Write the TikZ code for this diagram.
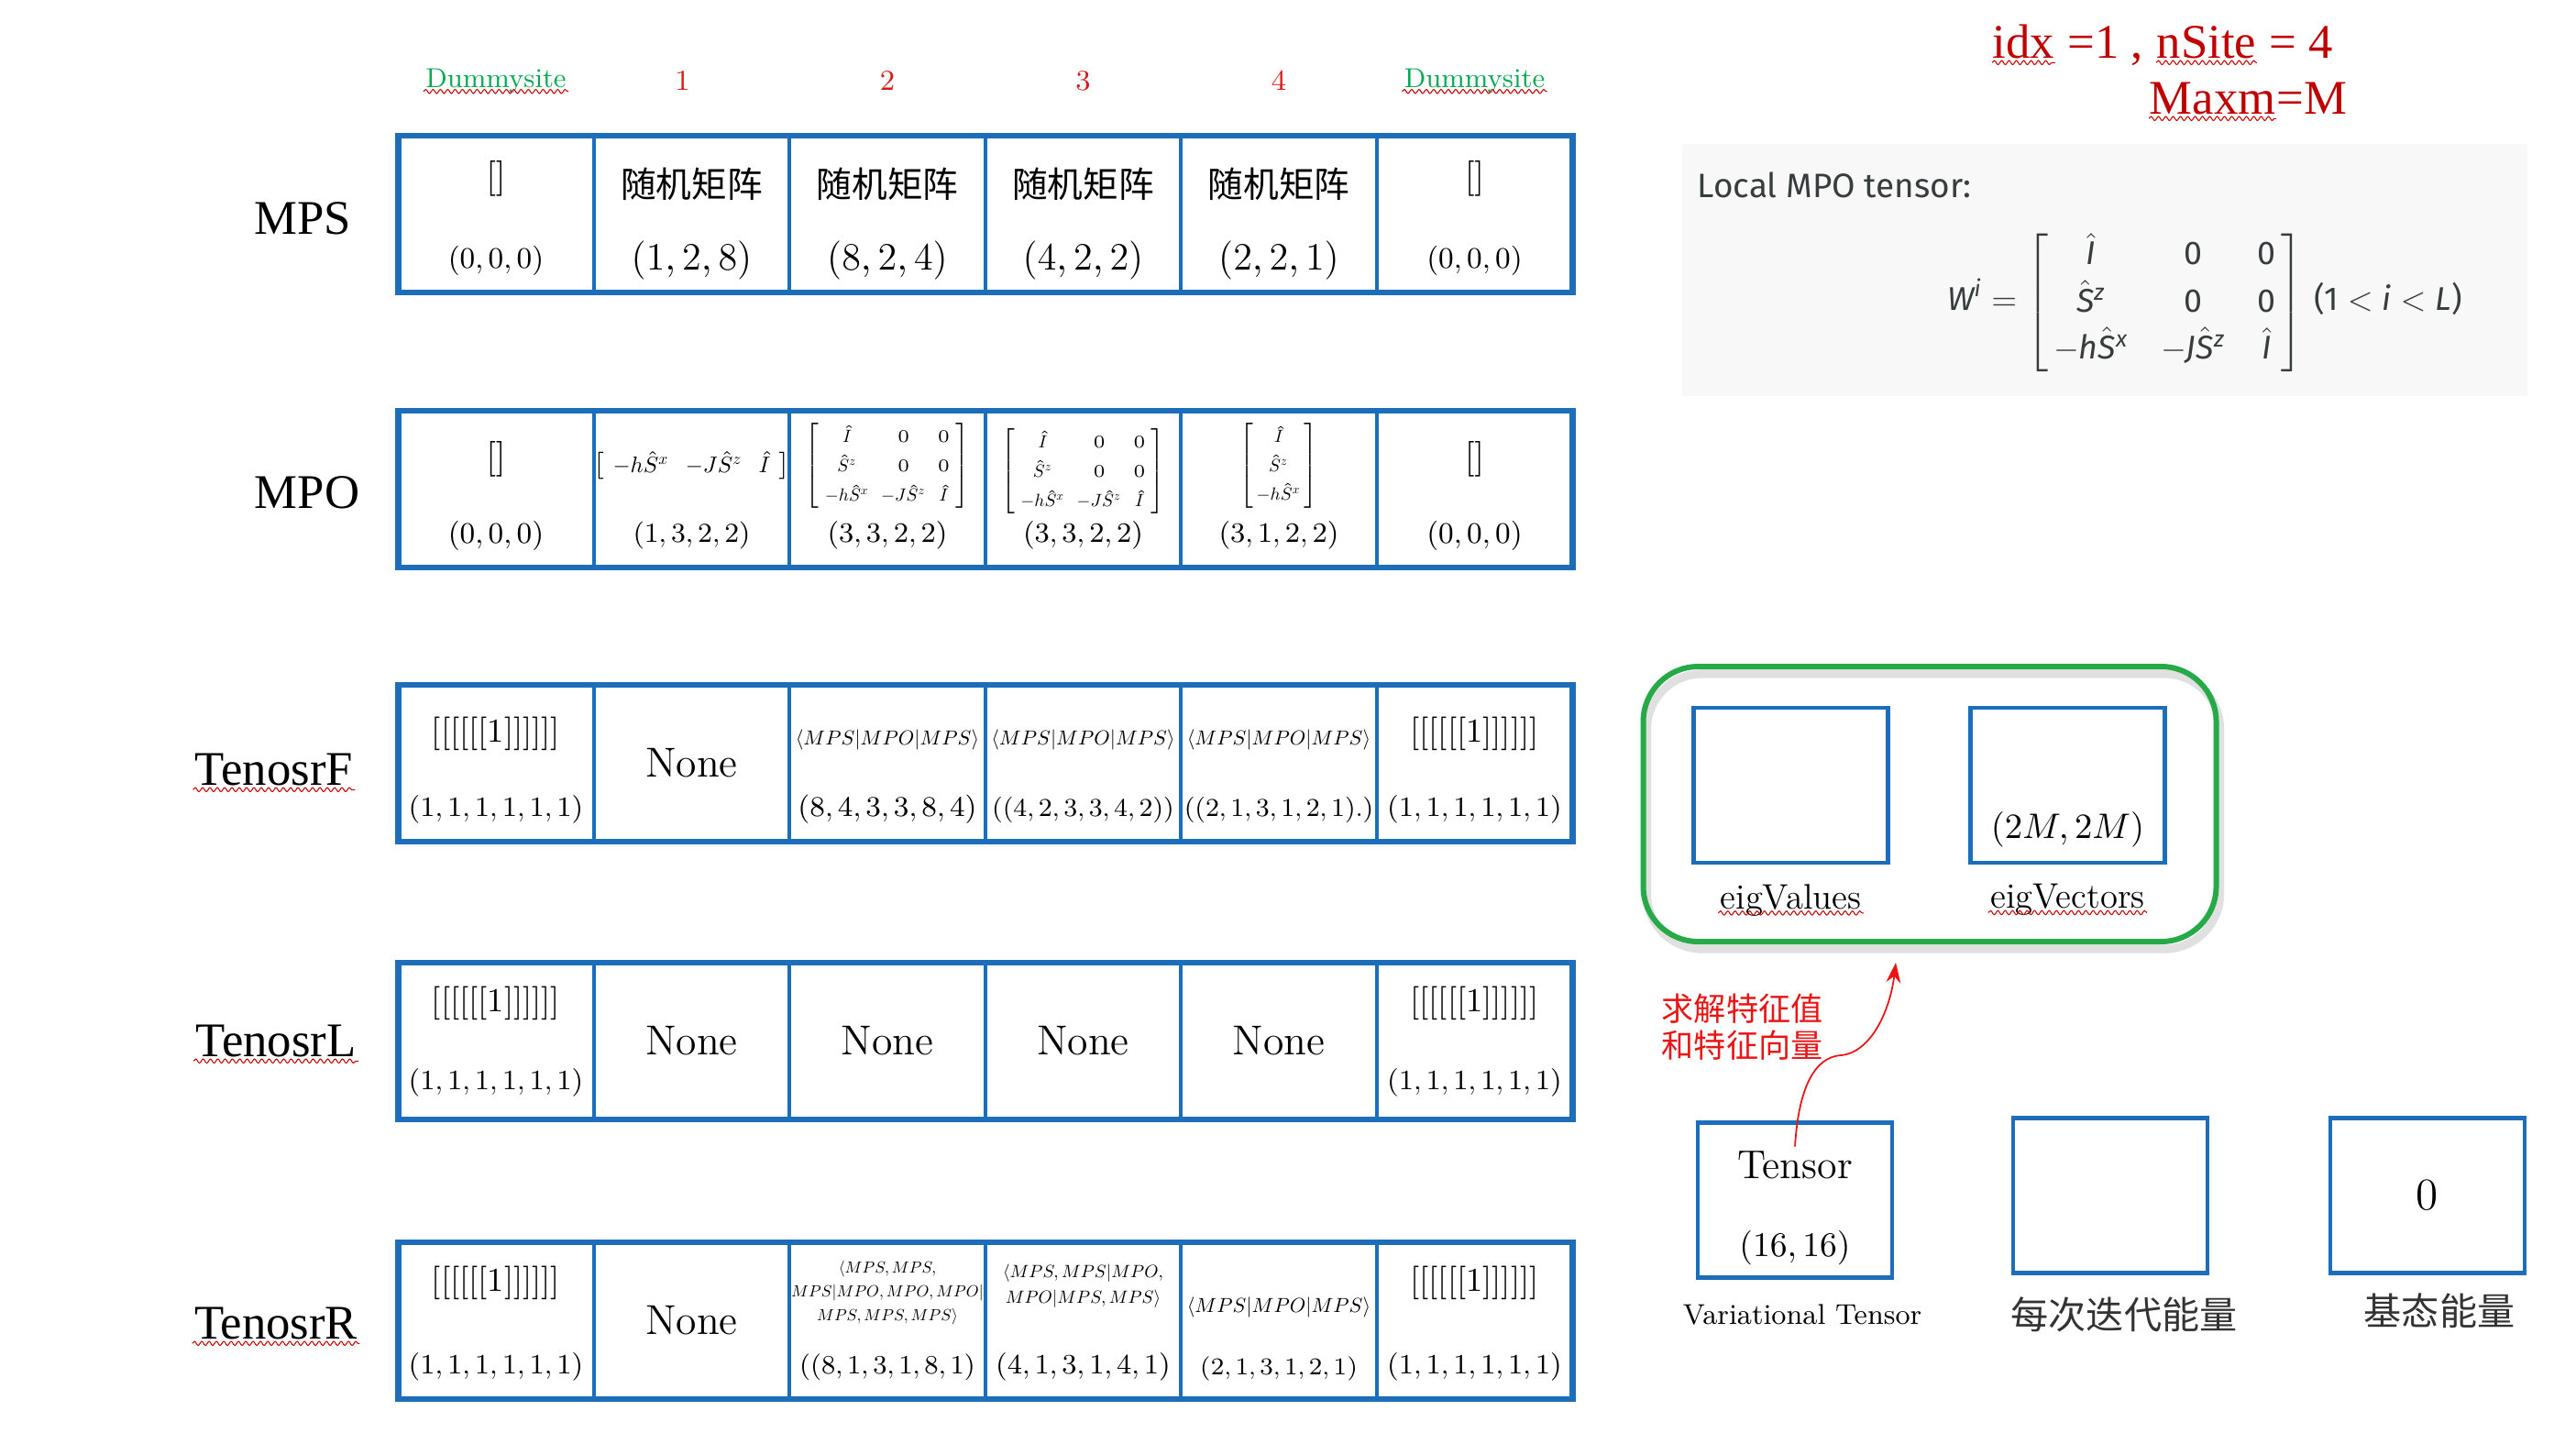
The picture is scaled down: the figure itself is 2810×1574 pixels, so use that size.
\RequirePackage{fix-cm}
\documentclass[tikz,border=0pt]{standalone}
\usepackage{amsmath}
\usepackage{amssymb}
\usepackage{fontspec}
\usepackage{tikz}
\usetikzlibrary{positioning,arrows.meta,decorations.pathmorphing}
\DeclareFontShape{OML}{cmm}{m}{it}{<->cmmi10}{}
\DeclareFontShape{OMS}{cmsy}{m}{n}{<->cmsy10}{}
\newfontfamily\cjk{Noto Sans CJK SC}
\newfontfamily\tnr{Liberation Serif}
\newfontfamily\fira{Fira Sans}
\definecolor{cellblue}{RGB}{28,110,186}
\definecolor{sitegreen}{RGB}{0,170,80}
\definecolor{numred}{RGB}{222,24,24}
\definecolor{idxred}{RGB}{192,0,0}
\definecolor{notered}{RGB}{235,20,20}
\definecolor{blobgreen}{RGB}{38,170,72}
\definecolor{panelgray}{RGB}{248,248,248}
\definecolor{paneltext}{RGB}{55,60,60}
\newcommand{\fsz}[2]{\fontsize{#1}{#2}\selectfont}
\newcommand{\Ih}{\hat{I}}
\newcommand{\Sz}{\hat{S}^{z}}
\newcommand{\Sx}{\hat{S}^{x}}
\newcommand{\fm}[1]{\text{\fira\itshape #1}}
\newcommand{\fr}[1]{\text{\fira #1}}
\newcommand{\wmat}{{\setlength{\arraycolsep}{1.8pt}\renewcommand{\arraystretch}{1.4}$\left[\begin{array}{ccc}\Ih&0&0\\ \Sz&0&0\\ -h\Sx&-J\Sz&\Ih\end{array}\right]$}}

\begin{document}
\begin{tikzpicture}[x=0.1mm, y=-0.1mm,
    cell/.style = {draw=cellblue, line width=1.1pt, minimum width=21.35mm, minimum height=17.1mm, inner sep=0pt, outer sep=0pt},
    rowframe/.style = {draw=cellblue, line width=1.9pt},
    box/.style = {draw=cellblue, line width=1.3pt, minimum width=21.2mm, minimum height=16.9mm, inner sep=0pt, outer sep=0pt},
    rowname/.style = {font=\tnr\fsz{15}{18}, inner sep=0.5pt},
    site/.style = {font=\fsz{8.5}{10}, text=sitegreen, inner sep=0.5pt},
    sitenum/.style = {font=\fsz{9}{11}, text=numred},
    celltop/.style = {at={([yshift=-5.3mm]#1.north)}},
    celltopr/.style = {at={([yshift=-4.4mm]#1.north)}},
    cellmid/.style = {at={([yshift=-6mm]#1.north)}},
    cellbot/.style = {at={([yshift=-13.6mm]#1.north)}},
    none/.style = {font=\fsz{13}{15}},
    ones/.style = {font=\fsz{10.4}{12}},
    onedims/.style = {font=\fsz{8.7}{10}},
    bra/.style = {font=\fsz{6.3}{7.6}, inner sep=0pt},
    title/.style = {font=\tnr\fsz{15}{18}, text=idxred, inner sep=0pt},
    blob/.style = {draw=blobgreen, line width=1.7pt, minimum width=62.5mm, minimum height=30mm, rounded corners=6mm,
        preaction={draw=black!12, line width=2.6pt, transform canvas={shift={(0.4mm,-0.8mm)}}}},
    spell/.style = {draw=red!80!black, line width=0.3pt, decorate, decoration={snake, amplitude=0.22mm, segment length=0.8mm}},
    solvearrow/.style = {draw=notered, line width=0.5pt, -{Stealth[length=2.2mm, width=1.6mm]}}]
    \useasboundingbox (0,0) rectangle (2810,1574);

    % row names
    \node[rowname] (lmps) at (330,238) {MPS};
    \node[rowname] (lmpo) at (335,537) {MPO};
    \node[rowname] (ltf) at (299,839) {TenosrF};
    \node[rowname] (ltl) at (301,1135) {TenosrL};
    \node[rowname] (ltr) at (301,1443) {TenosrR};

    % MPS
    \node[cell] (mps0) at (541,233.5) {};
    \node[cell, right=0pt of mps0] (mps1) {};
    \node[cell, right=0pt of mps1] (mps2) {};
    \node[cell, right=0pt of mps2] (mps3) {};
    \node[cell, right=0pt of mps3] (mps4) {};
    \node[cell, right=0pt of mps4] (mps5) {};
    \draw[rowframe] (mps0.north west) rectangle (mps5.south east);

    \node[site] (site0) at ([yshift=6mm]mps0.north) {Dummysite};
    \node[sitenum] (site1) at ([xshift=-1mm, yshift=6mm]mps1.north) {1};
    \node[sitenum] (site2) at ([yshift=6mm]mps2.north) {2};
    \node[sitenum] (site3) at ([yshift=6mm]mps3.north) {3};
    \node[sitenum] (site4) at ([yshift=6mm]mps4.north) {4};
    \node[site] (site5) at ([yshift=6mm]mps5.north) {Dummysite};

    \node[celltop=mps0, font=\fsz{11}{13}, yshift=0.6mm] (mps0a) {$[]$};
    \node[cellbot=mps0, font=\fsz{9.2}{11}] (mps0b) {$(0,0,0)$};
    \node[celltop=mps1, font=\cjk\fsz{11}{13}] (mps1a) {随机矩阵};
    \node[cellbot=mps1, font=\fsz{12}{14}] (mps1b) {$(1,2,8)$};
    \node[celltop=mps2, font=\cjk\fsz{11}{13}] (mps2a) {随机矩阵};
    \node[cellbot=mps2, font=\fsz{12}{14}] (mps2b) {$(8,2,4)$};
    \node[celltop=mps3, font=\cjk\fsz{11}{13}] (mps3a) {随机矩阵};
    \node[cellbot=mps3, font=\fsz{12}{14}] (mps3b) {$(4,2,2)$};
    \node[celltop=mps4, font=\cjk\fsz{11}{13}] (mps4a) {随机矩阵};
    \node[cellbot=mps4, font=\fsz{12}{14}] (mps4b) {$(2,2,1)$};
    \node[celltop=mps5, font=\fsz{11}{13}, yshift=0.6mm] (mps5a) {$[]$};
    \node[cellbot=mps5, font=\fsz{9.2}{11}] (mps5b) {$(0,0,0)$};

    % MPO
    \node[cell] (mpo0) at (541,533.5) {};
    \node[cell, right=0pt of mpo0] (mpo1) {};
    \node[cell, right=0pt of mpo1] (mpo2) {};
    \node[cell, right=0pt of mpo2] (mpo3) {};
    \node[cell, right=0pt of mpo3] (mpo4) {};
    \node[cell, right=0pt of mpo4] (mpo5) {};
    \draw[rowframe] (mpo0.north west) rectangle (mpo5.south east);

    \node[celltop=mpo0, font=\fsz{11}{13}] (mpo0a) {$[]$};
    \node[cellbot=mpo0, font=\fsz{9.2}{11}] (mpo0b) {$(0,0,0)$};
    \node[cellmid=mpo1, font=\fsz{7}{8.4}, inner sep=0pt] (mpo1a) {\setlength{\arraycolsep}{2.5pt}$\left[\begin{array}{ccc}-h\Sx&-J\Sz&\Ih\end{array}\right]$};
    \node[cellbot=mpo1, font=\fsz{8.5}{10}] (mpo1b) {$(1,3,2,2)$};
    \node[cellmid=mpo2, font=\fsz{5.5}{6.6}, inner sep=0pt] (mpo2a) {\wmat};
    \node[cellbot=mpo2, font=\fsz{8.7}{10}] (mpo2b) {$(3,3,2,2)$};
    \node[cellmid=mpo3, font=\fsz{5.5}{6.6}, inner sep=0pt, yshift=-0.6mm] (mpo3a) {\wmat};
    \node[cellbot=mpo3, font=\fsz{8.7}{10}] (mpo3b) {$(3,3,2,2)$};
    \node[cellmid=mpo4, font=\fsz{5.5}{6.6}, inner sep=0pt] (mpo4a) {\renewcommand{\arraystretch}{1.35}$\left[\begin{array}{@{\,}c@{\,}}\Ih\\ \Sz\\ -h\Sx\end{array}\right]$};
    \node[cellbot=mpo4, font=\fsz{8.7}{10}] (mpo4b) {$(3,1,2,2)$};
    \node[celltop=mpo5, font=\fsz{11}{13}] (mpo5a) {$[]$};
    \node[cellbot=mpo5, font=\fsz{9.2}{11}] (mpo5b) {$(0,0,0)$};

    % TenosrF
    \node[cell] (tf0) at (541,832.5) {};
    \node[cell, right=0pt of tf0] (tf1) {};
    \node[cell, right=0pt of tf1] (tf2) {};
    \node[cell, right=0pt of tf2] (tf3) {};
    \node[cell, right=0pt of tf3] (tf4) {};
    \node[cell, right=0pt of tf4] (tf5) {};
    \draw[rowframe] (tf0.north west) rectangle (tf5.south east);

    \node[celltop=tf0, ones] (tf0a) {[[[[[[1]]]]]]};
    \node[cellbot=tf0, onedims] (tf0b) {$(1,1,1,1,1,1)$};
    \node[none] (tf1a) at (tf1) {None};
    \node[cellmid=tf2, bra] (tf2a) {$\langle MPS|MPO|MPS\rangle$};
    \node[cellbot=tf2, font=\fsz{8.9}{10}] (tf2b) {$(8,4,3,3,8,4)$};
    \node[cellmid=tf3, bra] (tf3a) {$\langle MPS|MPO|MPS\rangle$};
    \node[cellbot=tf3, font=\fsz{8}{10}] (tf3b) {$((4,2,3,3,4,2))$};
    \node[cellmid=tf4, bra] (tf4a) {$\langle MPS|MPO|MPS\rangle$};
    \node[cellbot=tf4, font=\fsz{8}{10}] (tf4b) {$((2,1,3,1,2,1).)$};
    \node[celltop=tf5, ones] (tf5a) {[[[[[[1]]]]]]};
    \node[cellbot=tf5, onedims] (tf5b) {$(1,1,1,1,1,1)$};

    % TenosrL
    \node[cell] (tl0) at (541,1135.5) {};
    \node[cell, right=0pt of tl0] (tl1) {};
    \node[cell, right=0pt of tl1] (tl2) {};
    \node[cell, right=0pt of tl2] (tl3) {};
    \node[cell, right=0pt of tl3] (tl4) {};
    \node[cell, right=0pt of tl4] (tl5) {};
    \draw[rowframe] (tl0.north west) rectangle (tl5.south east);

    \node[celltopr=tl0, ones] (tl0a) {[[[[[[1]]]]]]};
    \node[onedims] (tl0b) at ([yshift=-13.1mm]tl0.north) {$(1,1,1,1,1,1)$};
    \node[none] (tl1a) at (tl1) {None};
    \node[none] (tl2a) at (tl2) {None};
    \node[none] (tl3a) at (tl3) {None};
    \node[none] (tl4a) at (tl4) {None};
    \node[celltopr=tl5, ones] (tl5a) {[[[[[[1]]]]]]};
    \node[onedims] (tl5b) at ([yshift=-13.1mm]tl5.north) {$(1,1,1,1,1,1)$};

    % TenosrR
    \node[cell] (tr0) at (541,1440.5) {};
    \node[cell, right=0pt of tr0] (tr1) {};
    \node[cell, right=0pt of tr1] (tr2) {};
    \node[cell, right=0pt of tr2] (tr3) {};
    \node[cell, right=0pt of tr3] (tr4) {};
    \node[cell, right=0pt of tr4] (tr5) {};
    \draw[rowframe] (tr0.north west) rectangle (tr5.south east);

    \node[celltopr=tr0, ones] (tr0a) {[[[[[[1]]]]]]};
    \node[cellbot=tr0, onedims] (tr0b) {$(1,1,1,1,1,1)$};
    \node[none] (tr1a) at (tr1) {None};
    \node[align=center, font=\fsz{5}{7.3}, inner sep=0pt] (tr2a) at ([yshift=-5.5mm]tr2.north) {$\langle MPS,MPS,$\\$MPS|MPO,MPO,MPO|$\\$MPS,MPS,MPS\rangle$};
    \node[cellbot=tr2, font=\fsz{8.2}{10}] (tr2b) {$((8,1,3,1,8,1)$};
    \node[align=center, font=\fsz{5.5}{8}, inner sep=0pt] (tr3a) at ([yshift=-4.8mm]tr3.north) {$\langle MPS,MPS|MPO,$\\$MPO|MPS,MPS\rangle$};
    \node[cellbot=tr3, onedims] (tr3b) {$(4,1,3,1,4,1)$};
    \node[font=\fsz{6.3}{7.6}, inner sep=0pt] (tr4a) at ([yshift=-7.1mm]tr4.north) {$\langle MPS|MPO|MPS\rangle$};
    \node[font=\fsz{7.5}{9}] (tr4b) at ([yshift=-13.8mm]tr4.north) {$(2,1,3,1,2,1)$};
    \node[celltopr=tr5, ones] (tr5a) {[[[[[[1]]]]]]};
    \node[cellbot=tr5, onedims] (tr5b) {$(1,1,1,1,1,1)$};

    % sizes
    \node[title, anchor=base west] (idx) at (2173,63) {idx};
    \node[title, anchor=base west] (idxval) at (idx.base east) {\ =1 ,\kern0.25em};
    \node[title, anchor=base west] (nsite) at (idxval.base east) {nSite};
    \node[title, anchor=base west] (nsiteval) at (nsite.base east) {\ = 4};
    \node[title, anchor=base west] (maxm) at (2344,124) {Maxm};
    \node[title, anchor=base west] (maxmval) at (maxm.base east) {=M};

    % local MPO tensor
    \node[fill=panelgray, minimum width=92.2mm, minimum height=27.5mm, inner sep=0pt] (panel) at (2296,294.5) {};
    \node[font=\fira\fsz{10.5}{12.6}, text=paneltext, anchor=west, inner sep=0pt] (localtxt) at (1851,202) {Local MPO tensor:};
    \node[font=\fira\fsz{10.2}{12.5}, text=paneltext] (weq) at (2405,330)
        {\renewcommand{\arraystretch}{1.17}$\fm{W}^{\fm{i}} = \left[\begin{array}{@{\,}ccc@{\,}} \hat{\fm{I}} & \fr{0} & \fr{0}\\ \hat{\fm{S}}{}^{\fm{z}} & \fr{0} & \fr{0}\\ -\fm{h}\hat{\fm{S}}{}^{\fm{x}} & -\fm{J}\hat{\fm{S}}{}^{\fm{z}} & \hat{\fm{I}} \end{array}\right]\,\fr{(1} < \fm{i} < \fm{L}\fr{)}$};

    % eigen solver
    \node[blob] (eigblob) at (2105,877) {};
    \node[box] (eigval) at (1953.5,856.5) {};
    \node[box, right=9mm of eigval] (eigvec) {};
    \node[font=\fsz{11}{13}, inner sep=0.5pt, below=2.1mm of eigval] (eigvallbl) {eigValues};
    \node[font=\fsz{11}{13}, inner sep=0.5pt, below=2.1mm of eigvec] (eigveclbl) {eigVectors};
    \node[font=\fsz{11}{13}] (eigvecdim) at ([yshift=3.6mm]eigvec.south) {$(2M,2M)$};

    \node[box] (vartensor) at (1958,1309) {};
    \node[box] (iterE) at (2302,1304) {};
    \node[box, right=13.4mm of iterE] (groundE) {};
    \node[font=\fsz{12.5}{15}] (tensortxt) at ([yshift=-4.6mm]vartensor.north) {Tensor};
    \node[font=\fsz{10.7}{13}] (tensordim) at ([yshift=3.2mm]vartensor.south) {$(16,16)$};
    \node[font=\fsz{14}{16}] (groundval) at (groundE) {0};
    \node[font=\fsz{8.9}{11}] (vartensorlbl) at (1966,1434) {Variational Tensor};
    \node[font=\cjk\fsz{11.7}{14}, text=black!80] (iterElbl) at (2317,1434) {每次迭代能量};
    \node[font=\cjk\fsz{11.7}{14}, text=black!80] (groundElbl) at (2661,1430) {基态能量};

    \node[font=\cjk\fsz{10}{11.6}, text=notered, align=left, anchor=west, inner sep=0pt] (solvenote) at (1812,1120) {求解特征值\\和特征向量};
    \draw[solvearrow] ([yshift=-2.6mm]vartensor.north) .. controls (1962,1185) and (1980,1153) .. (2008,1151)
        .. controls (2042,1148) and (2062,1100) .. ([xshift=-3.7mm, yshift=-2mm]eigblob.south);

    % spell check marks
    \draw[spell] ([yshift=-1.3pt]site0.base west) -- ([yshift=-1.3pt]site0.base east);
    \draw[spell] ([yshift=-1.3pt]site5.base west) -- ([yshift=-1.3pt]site5.base east);
    \draw[spell] ([yshift=-1.5pt]ltf.base west) -- ([yshift=-1.5pt]ltf.base east);
    \draw[spell] ([yshift=-1.5pt]ltl.base west) -- ([yshift=-1.5pt]ltl.base east);
    \draw[spell] ([yshift=-1.5pt]ltr.base west) -- ([yshift=-1.5pt]ltr.base east);
    \draw[spell] ([yshift=-1.5pt]idx.base west) -- ([yshift=-1.5pt]idx.base east);
    \draw[spell] ([yshift=-1.5pt]nsite.base west) -- ([yshift=-1.5pt]nsite.base east);
    \draw[spell] ([yshift=-1.5pt]maxm.base west) -- ([yshift=-1.5pt]maxm.base east);
    \draw[spell] ([yshift=-1.3pt]eigvallbl.base west) -- ([yshift=-1.3pt]eigvallbl.base east);
    \draw[spell] ([yshift=-1.3pt]eigveclbl.base west) -- ([yshift=-1.3pt]eigveclbl.base east);
\end{tikzpicture}
\end{document}
